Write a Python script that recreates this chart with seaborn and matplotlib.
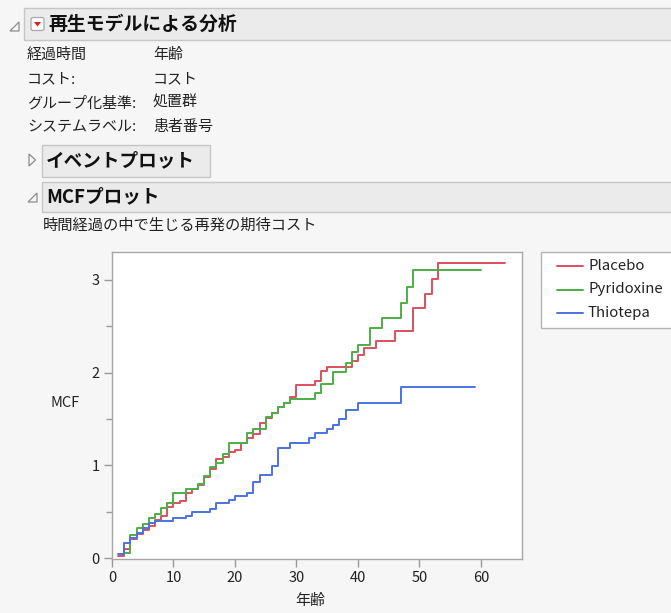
import matplotlib
matplotlib.use("Agg")
import matplotlib.pyplot as plt
from matplotlib.patches import Rectangle, FancyBboxPatch, Polygon
import numpy as np
import pandas as pd
import seaborn as sns

# --- data: mean cumulative function (MCF) step points per treatment group ---
groups = ["Placebo", "Pyridoxine", "Thiotepa"]
group_colors = ["#d9505e", "#4cae45", "#4a72e0"]

placebo_age = [1, 2, 3, 4, 5, 6, 7, 8, 9, 10, 11, 12, 13, 14, 15, 16, 17, 18,
               19, 20, 21, 22, 23, 24, 25, 26, 27, 28, 29, 30, 33, 34, 35, 39,
               40, 41, 43, 46, 49, 51, 52, 53]
placebo_mcf = [0.02, 0.097, 0.21, 0.255, 0.30, 0.35, 0.41, 0.455, 0.547, 0.59,
               0.61, 0.705, 0.74, 0.787, 0.87, 0.96, 1.065, 1.09, 1.147, 1.17,
               1.237, 1.29, 1.334, 1.453, 1.514, 1.567, 1.63, 1.67, 1.74, 1.866,
               1.91, 2.02, 2.06, 2.13, 2.19, 2.27, 2.344, 2.45, 2.70, 2.85, 3.01,
               3.18]
placebo_end = 64

pyridoxine_age = [2, 3, 4, 5, 6, 7, 8, 9, 10, 12, 14, 15, 16, 17, 18, 19, 22,
                  23, 25, 26, 27, 28, 29, 33, 34, 36, 38, 39, 40, 42, 44, 47,
                  48, 49]
pyridoxine_mcf = [0.057, 0.248, 0.32, 0.367, 0.428, 0.475, 0.543, 0.59, 0.705,
                  0.744, 0.80, 0.885, 0.98, 1.03, 1.12, 1.245, 1.345, 1.39,
                  1.52, 1.567, 1.63, 1.67, 1.715, 1.78, 1.88, 2.01, 2.10, 2.225,
                  2.30, 2.48, 2.59, 2.754, 2.92, 3.11]
pyridoxine_end = 60

thiotepa_age = [1, 2, 3, 4, 5, 6, 7, 10, 12, 13, 16, 17, 19, 20, 22, 23, 24,
                26, 27, 29, 32, 33, 35, 36, 37, 38, 40, 47]
thiotepa_mcf = [0.043, 0.158, 0.22, 0.266, 0.32, 0.374, 0.40, 0.43, 0.453,
                0.50, 0.525, 0.597, 0.625, 0.668, 0.705, 0.817, 0.897, 0.996,
                1.19, 1.237, 1.29, 1.345, 1.395, 1.44, 1.50, 1.60, 1.675, 1.84]
thiotepa_end = 59

x_ticks = [0, 10, 20, 30, 40, 50, 60]
y_ticks = [0, 1, 2, 3]

info_keys = ["経過時間", "コスト:", "グループ化基準:", "システムラベル:"]
info_vals = ["年齢", "コスト", "処置群", "患者番号"]

# long-form table; each curve is held flat to its last observed age
frames = []
for name, ages, mcf, end in [
    ("Placebo", placebo_age, placebo_mcf, placebo_end),
    ("Pyridoxine", pyridoxine_age, pyridoxine_mcf, pyridoxine_end),
    ("Thiotepa", thiotepa_age, thiotepa_mcf, thiotepa_end),
]:
    frames.append(pd.DataFrame({
        "age": list(ages) + [end],
        "mcf": list(mcf) + [mcf[-1]],
        "group": name,
    }))
df = pd.concat(frames, ignore_index=True)

# --- figure ---
W, H = 671, 613
sns.set_theme(style="white")
plt.rcParams["font.family"] = ["Noto Sans CJK JP", "DejaVu Sans"]

BG = "#f6f6f6"
BAR = "#ebebeb"
BAR_EDGE = "#c6c6c6"
TXT = "#222222"

fig = plt.figure(figsize=(W / 100, H / 100), dpi=100, facecolor=BG)

# pixel-space canvas for the report chrome
bg = fig.add_axes([0, 0, 1, 1])
bg.set_xlim(0, W)
bg.set_ylim(H, 0)
bg.axis("off")
bg.set_facecolor(BG)

# top report header
bg.add_patch(Rectangle((24, 8), W, 32, fc=BAR, ec=BAR_EDGE, lw=1))
bg.add_patch(Polygon([(10, 31), (19, 31), (19, 22)], closed=True,
                     fill=False, ec="#8c8c8c", lw=0.9))
bg.add_patch(FancyBboxPatch((31, 17.5), 13, 13, boxstyle="round,pad=0,rounding_size=2",
                            fc="white", ec="#a8a8a8", lw=0.9))
bg.add_patch(Polygon([(34, 22), (41, 22), (37.5, 26.5)], closed=True,
                     fc="#d42020", ec="none"))
bg.text(48, 24, "再生モデルによる分析", fontsize=13.6, fontweight="bold",
        color="#111111", va="center", ha="left")

# launch settings
rows_y = [55, 79, 103, 127]
for k, v, y in zip(info_keys, info_vals, rows_y):
    bg.text(27, y, k, fontsize=10.8, color=TXT, va="center", ha="left")
    bg.text(153, y, v, fontsize=10.8, color=TXT, va="center", ha="left")

# collapsed event-plot outline node
bg.add_patch(Rectangle((42, 145), 168, 32, fc=BAR, ec=BAR_EDGE, lw=1))
bg.add_patch(Polygon([(29, 154), (29, 166), (35.5, 160)], closed=True,
                     fill=False, ec="#8c8c8c", lw=0.9))
bg.text(46, 161, "イベントプロット", fontsize=13.4, fontweight="bold",
        color="#111111", va="center", ha="left")

# open MCF outline node
bg.add_patch(Rectangle((42, 182), W, 30, fc=BAR, ec=BAR_EDGE, lw=1))
bg.add_patch(Polygon([(28, 202), (37, 202), (37, 193)], closed=True,
                     fill=False, ec="#8c8c8c", lw=0.9))
bg.text(46, 197, "MCFプロット", fontsize=13.4, fontweight="bold",
        color="#111111", va="center", ha="left")
bg.text(43, 225, "時間経過の中で生じる再発の期待コスト", fontsize=11,
        color=TXT, va="center", ha="left")

# --- MCF plot ---
ax = fig.add_axes([112 / W, 1 - 559 / H, 410 / W, 307 / H])
ax.set_facecolor("white")
sns.lineplot(data=df, x="age", y="mcf", hue="group", hue_order=groups,
             palette=group_colors, estimator=None, sort=False,
             drawstyle="steps-post", linewidth=1.4, legend=False, ax=ax)

ax.set_xlim(0, 66.7)
ax.set_ylim(-0.01, 3.30)
ax.set_xticks(x_ticks)
ax.set_xticklabels([str(t) for t in x_ticks])
ax.set_yticks(y_ticks)
ax.set_yticklabels([str(t) for t in y_ticks])
ax.set_yticks([0.5, 1.5, 2.5], minor=True)
ax.tick_params(axis="both", which="major", direction="out", length=6,
               width=1, color="#9a9a9a", labelsize=10.5, labelcolor=TXT,
               bottom=True, left=True, pad=3)
ax.tick_params(axis="y", which="minor", direction="out", length=4,
               width=1, color="#9a9a9a", left=True)
for side, sp in ax.spines.items():
    sp.set_color("#a6a6a6")
    sp.set_linewidth(1.0)

ax.set_xlabel("年齢", fontsize=10.8, color=TXT, va="center")
ax.xaxis.set_label_coords((310 - 112) / 410, (559 - 601) / 307)
ax.set_ylabel("MCF", fontsize=10.5, color=TXT, rotation=0,
              ha="center", va="center")
ax.yaxis.set_label_coords((65 - 112) / 410, (559 - 403) / 307)

# legend panel
bg.add_patch(Rectangle((541, 252), 150, 76, fc="white", ec="#b4b4b4", lw=1))
for i, (name, col) in enumerate(zip(groups, group_colors)):
    y = 266 + i * 23.5
    bg.plot([557, 583], [y, y], color=col, lw=1.4)
    bg.text(588, y, name, fontsize=10.8, color=TXT, va="center", ha="left")

fig.savefig("out.png", dpi=100, facecolor=BG)
